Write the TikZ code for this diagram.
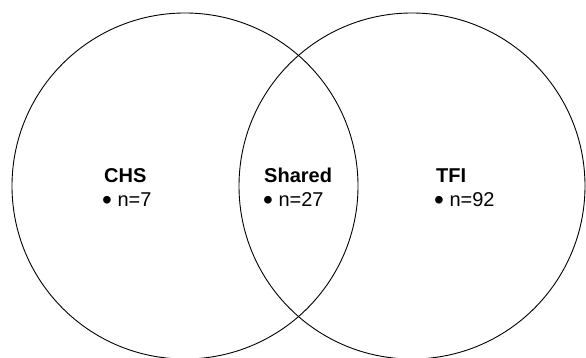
\documentclass[tikz,border=0pt]{standalone}
\usepackage{fontspec}
\setmainfont{Liberation Sans}
\newcommand{\bigbul}{\raisebox{-2.5pt}{\fontsize{28}{24}\selectfont •}}
\begin{document}
\begin{tikzpicture}[x=1pt,y=1pt,
  setcircle/.style={draw=black, line width=0.9pt},
  head/.style={anchor=base west, inner sep=0pt, font=\fontsize{20}{24}\selectfont\bfseries},
  item/.style={anchor=base west, inner sep=0pt, font=\fontsize{20}{24}\selectfont}]
\useasboundingbox (0,0) rectangle (586,358);
\draw[setcircle] (185,172) circle (173);
\draw[setcircle] (412,172) circle (173);
\node[head] (chs) at (104,175.3) {CHS};
\node[item] (chsn) at (102,151.3) {\bigbul\ n=7};
\node[head] (sh) at (264,175.3) {Shared};
\node[item] (shn) at (263,151.3) {\bigbul\ n=27};
\node[head] (tfi) at (436,175.3) {TFI};
\node[item] (tfin) at (434,151.3) {\bigbul\ n=92};
\end{tikzpicture}
\end{document}
